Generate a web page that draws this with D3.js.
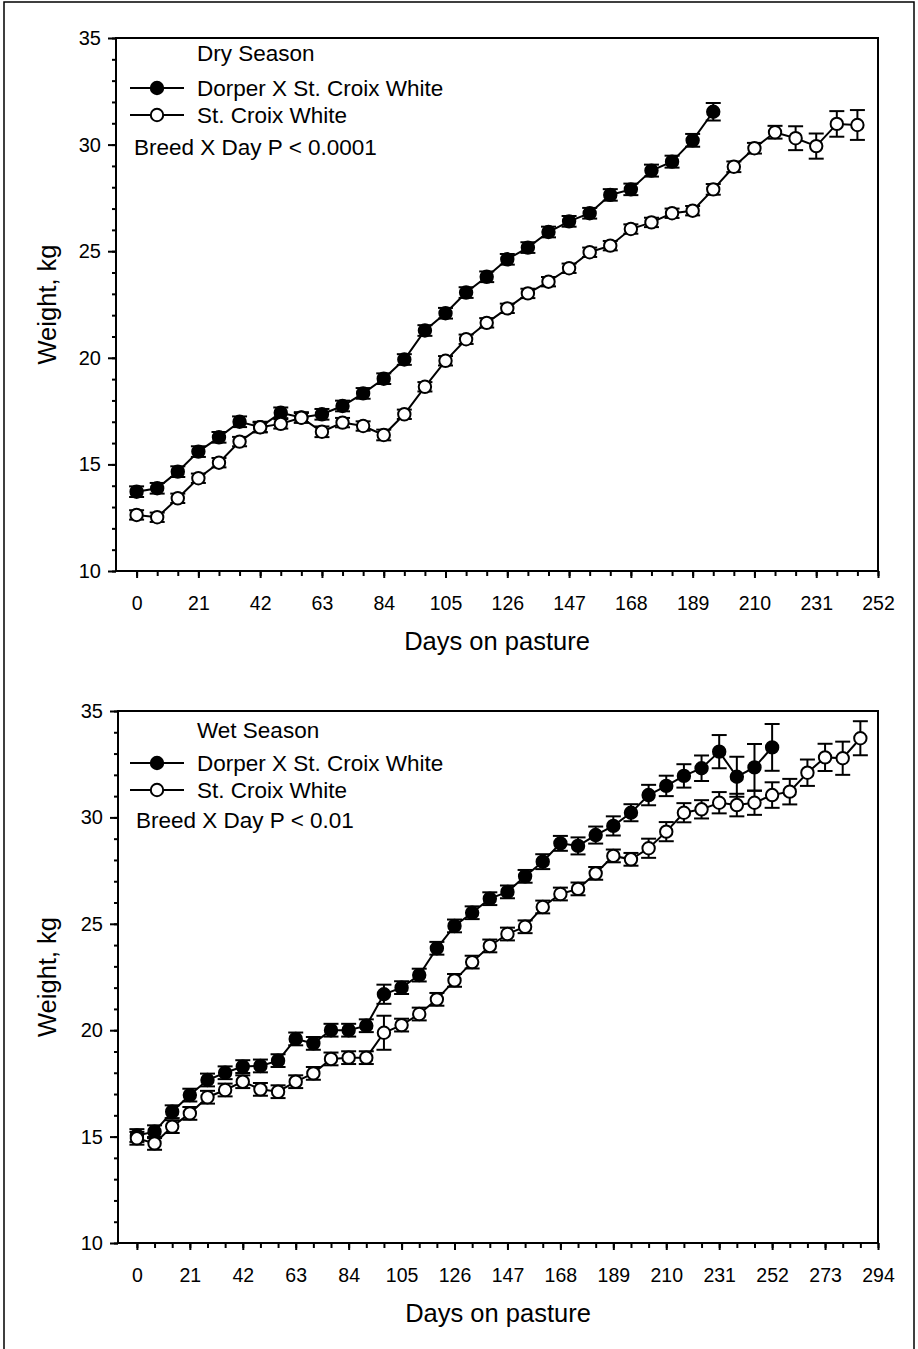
<!DOCTYPE html>
<html>
<head>
<meta charset="utf-8">
<script src="https://cdn.jsdelivr.net/npm/d3@7"></script>
<style>
body { margin: 0; background: #fff; }
text { font-family: "Liberation Sans", Arial, sans-serif; fill: #000; }
</style>
</head>
<body>
<script>
// Dry season
const dryDaysCross = [0, 7, 14, 21, 28, 35, 42, 49, 56, 63, 70, 77, 84, 91, 98, 105, 112, 119, 126, 133, 140, 147, 154, 161, 168, 175, 182, 189, 196]
const dryCross = [13.72, 13.88, 14.66, 15.6, 16.27, 17.0, 16.75, 17.42, 17.2, 17.35, 17.74, 18.33, 19.02, 19.92, 21.28, 22.09, 23.06, 23.8, 24.62, 25.17, 25.9, 26.4, 26.78, 27.64, 27.9, 28.78, 29.2, 30.2, 31.54]
const dryCrossSe = [0.25, 0.25, 0.25, 0.25, 0.25, 0.25, 0.25, 0.25, 0.25, 0.25, 0.25, 0.25, 0.25, 0.25, 0.25, 0.25, 0.25, 0.25, 0.25, 0.25, 0.25, 0.25, 0.25, 0.27, 0.27, 0.28, 0.28, 0.3, 0.41]

const dryDaysSCW = [0, 7, 14, 21, 28, 35, 42, 49, 56, 63, 70, 77, 84, 91, 98, 105, 112, 119, 126, 133, 140, 147, 154, 161, 168, 175, 182, 189, 196, 203, 210, 217, 224, 231, 238, 245]
const drySCW = [12.63, 12.52, 13.41, 14.35, 15.08, 16.07, 16.74, 16.9, 17.19, 16.53, 16.96, 16.8, 16.38, 17.35, 18.64, 19.86, 20.87, 21.64, 22.32, 23.02, 23.57, 24.2, 24.95, 25.26, 26.04, 26.35, 26.78, 26.9, 27.9, 28.96, 29.83, 30.58, 30.3, 29.93, 30.97, 30.92]
const drySCWSe = [0.22, 0.22, 0.22, 0.22, 0.22, 0.22, 0.22, 0.22, 0.22, 0.25, 0.22, 0.22, 0.25, 0.22, 0.22, 0.22, 0.22, 0.22, 0.22, 0.22, 0.22, 0.22, 0.22, 0.22, 0.22, 0.22, 0.22, 0.22, 0.25, 0.25, 0.25, 0.3, 0.56, 0.59, 0.6, 0.7]

// Wet season
const wetDaysCross = [0, 7, 14, 21, 28, 35, 42, 49, 56, 63, 70, 77, 84, 91, 98, 105, 112, 119, 126, 133, 140, 147, 154, 161, 168, 175, 182, 189, 196, 203, 210, 217, 224, 231, 238, 245, 252]
const wetCross = [15.05, 15.23, 16.17, 16.95, 17.66, 18.0, 18.29, 18.32, 18.57, 19.59, 19.38, 20.0, 20.0, 20.21, 21.69, 22.0, 22.59, 23.85, 24.9, 25.52, 26.18, 26.5, 27.23, 27.92, 28.78, 28.66, 29.17, 29.6, 30.22, 31.05, 31.48, 31.95, 32.31, 33.09, 31.91, 32.35, 33.29]
const wetCrossSe = [0.3, 0.3, 0.3, 0.3, 0.3, 0.3, 0.3, 0.3, 0.3, 0.3, 0.3, 0.3, 0.3, 0.3, 0.45, 0.3, 0.3, 0.3, 0.3, 0.3, 0.3, 0.3, 0.3, 0.35, 0.35, 0.4, 0.4, 0.45, 0.4, 0.48, 0.48, 0.55, 0.6, 0.78, 0.94, 1.1, 1.1]

const wetDaysSCW = [0, 7, 14, 21, 28, 35, 42, 49, 56, 63, 70, 77, 84, 91, 98, 105, 112, 119, 126, 133, 140, 147, 154, 161, 168, 175, 182, 189, 196, 203, 210, 217, 224, 231, 238, 245, 252, 259, 266, 273, 280, 287]
const wetSCW = [14.92, 14.68, 15.47, 16.09, 16.85, 17.19, 17.58, 17.22, 17.11, 17.58, 17.97, 18.65, 18.71, 18.71, 19.88, 20.24, 20.76, 21.45, 22.34, 23.2, 23.96, 24.52, 24.86, 25.79, 26.4, 26.64, 27.37, 28.19, 28.03, 28.55, 29.33, 30.22, 30.38, 30.69, 30.58, 30.69, 31.05, 31.21, 32.1, 32.82, 32.78, 33.72]
const wetSCWSe = [0.3, 0.3, 0.3, 0.3, 0.3, 0.3, 0.3, 0.3, 0.3, 0.3, 0.3, 0.3, 0.3, 0.3, 0.8, 0.3, 0.3, 0.3, 0.3, 0.3, 0.3, 0.3, 0.3, 0.3, 0.3, 0.3, 0.3, 0.3, 0.3, 0.45, 0.45, 0.45, 0.43, 0.5, 0.53, 0.57, 0.6, 0.6, 0.62, 0.64, 0.78, 0.8]

const yTicks = [10, 15, 20, 25, 30, 35]
const dryXTicks = [0, 21, 42, 63, 84, 105, 126, 147, 168, 189, 210, 231, 252]
const wetXTicks = [0, 21, 42, 63, 84, 105, 126, 147, 168, 189, 210, 231, 252, 273, 294]

const legendNames = ["Dorper X St. Croix White", "St. Croix White"]

const panels = [
    {
        title: "Dry Season", stat: "Breed X Day P < 0.0001",
        left: 116, right: 878, top: 38, bottom: 571, xmin: -7, xmax: 252,
        xTicks: dryXTicks,
        series: [
            { days: dryDaysCross, w: dryCross, se: dryCrossSe, fill: "#000" },
            { days: dryDaysSCW, w: drySCW, se: drySCWSe, fill: "#fff" }
        ],
        leg: { title: 61, rows: [88, 115], stat: 155, lx: 134 }
    },
    {
        title: "Wet Season", stat: "Breed X Day P < 0.01",
        left: 118, right: 878, top: 711, bottom: 1243, xmin: -7.5, xmax: 294,
        xTicks: wetXTicks,
        series: [
            { days: wetDaysCross, w: wetCross, se: wetCrossSe, fill: "#000" },
            { days: wetDaysSCW, w: wetSCW, se: wetSCWSe, fill: "#fff" }
        ],
        leg: { title: 738, rows: [763, 790], stat: 828, lx: 136 }
    }
]

const svg = d3.select("body")
    .append("svg")
    .attr("width", 918)
    .attr("height", 1349)

// outer frame
svg.append("rect")
    .attr("x", 4).attr("y", 2)
    .attr("width", 910).attr("height", 1360)
    .attr("fill", "none")
    .attr("stroke", "#000")
    .attr("stroke-width", 1.5)

panels.forEach(p => {
    const x = d3.scaleLinear().domain([p.xmin, p.xmax]).range([p.left, p.right])
    const y = d3.scaleLinear().domain([10, 35]).range([p.bottom, p.top])
    const g = svg.append("g")

    // plot box
    g.append("rect")
        .attr("x", p.left).attr("y", p.top)
        .attr("width", p.right - p.left).attr("height", p.bottom - p.top)
        .attr("fill", "none").attr("stroke", "#000").attr("stroke-width", 2)

    // y axis, minor then major
    const yMinor = d3.range(10, 35.5, 1)
    g.append("g")
        .attr("transform", "translate(" + p.left + ",0)")
        .call(d3.axisLeft(y).tickValues(yMinor).tickSize(4).tickFormat(""))
        .call(a => a.select(".domain").remove())
        .selectAll("line").attr("stroke-width", 2)
    const ya = g.append("g")
        .attr("transform", "translate(" + p.left + ",0)")
        .call(d3.axisLeft(y).tickValues(yTicks).tickSize(8).tickPadding(7))
    ya.select(".domain").remove()
    ya.selectAll("line").attr("stroke-width", 2)
    ya.selectAll("text").style("font-size", "20px").attr("fill", "#000")

    // x axis, minor then major
    const xMinor = d3.range(0, p.xmax + 1, 7)
    g.append("g")
        .attr("transform", "translate(0," + p.bottom + ")")
        .call(d3.axisBottom(x).tickValues(xMinor).tickSize(5).tickFormat(""))
        .call(a => a.select(".domain").remove())
        .selectAll("line").attr("stroke-width", 2)
    const xa = g.append("g")
        .attr("transform", "translate(0," + p.bottom + ")")
        .call(d3.axisBottom(x).tickValues(p.xTicks).tickSize(7).tickPadding(18))
    xa.select(".domain").remove()
    xa.selectAll("line").attr("stroke-width", 2)
    xa.selectAll("text").style("font-size", "19.5px").attr("fill", "#000")

    // axis titles
    g.append("text")
        .attr("transform", "translate(56," + (p.top + p.bottom) / 2 + ") rotate(-90)")
        .attr("text-anchor", "middle")
        .style("font-size", "25.5px")
        .text("Weight, kg")
    g.append("text")
        .attr("x", (p.left + p.right) / 2)
        .attr("y", p.bottom + 79)
        .attr("text-anchor", "middle")
        .style("font-size", "25.5px")
        .text("Days on pasture")

    const line = d3.line().x(d => x(d.day)).y(d => y(d.w))

    p.series.forEach(s => {
        const pts = s.days.map((d, i) => ({ day: d, w: s.w[i], se: s.se[i] }))
        const sg = g.append("g")
        sg.append("path")
            .datum(pts)
            .attr("fill", "none")
            .attr("stroke", "#000")
            .attr("stroke-width", 2)
            .attr("d", line)
        const eb = sg.selectAll(".eb").data(pts).enter().append("g")
            .attr("stroke", "#000").attr("stroke-width", 2)
        eb.append("line")
            .attr("x1", d => x(d.day)).attr("x2", d => x(d.day))
            .attr("y1", d => y(d.w - d.se)).attr("y2", d => y(d.w + d.se))
        eb.append("line")
            .attr("x1", d => x(d.day) - 7.5).attr("x2", d => x(d.day) + 7.5)
            .attr("y1", d => y(d.w + d.se)).attr("y2", d => y(d.w + d.se))
        eb.append("line")
            .attr("x1", d => x(d.day) - 7.5).attr("x2", d => x(d.day) + 7.5)
            .attr("y1", d => y(d.w - d.se)).attr("y2", d => y(d.w - d.se))
        sg.selectAll("circle").data(pts).enter().append("circle")
            .attr("cx", d => x(d.day))
            .attr("cy", d => y(d.w))
            .attr("r", 6.2)
            .attr("fill", s.fill)
            .attr("stroke", "#000")
            .attr("stroke-width", 2)
    })

    // legend
    g.append("text")
        .attr("x", 197).attr("y", p.leg.title)
        .style("font-size", "22.5px")
        .text(p.title)
    p.series.forEach((s, i) => {
        const ly = p.leg.rows[i]
        g.append("line")
            .attr("x1", 130).attr("x2", 184)
            .attr("y1", ly).attr("y2", ly)
            .attr("stroke", "#000").attr("stroke-width", 2)
        g.append("circle")
            .attr("cx", 157).attr("cy", ly).attr("r", 6.2)
            .attr("fill", s.fill).attr("stroke", "#000").attr("stroke-width", 2)
        g.append("text")
            .attr("x", 197).attr("y", ly + 7.5)
            .style("font-size", "22.5px")
            .text(legendNames[i])
    })
    g.append("text")
        .attr("x", p.leg.lx).attr("y", p.leg.stat)
        .style("font-size", "22.5px")
        .text(p.stat)
})
</script>
</body>
</html>
